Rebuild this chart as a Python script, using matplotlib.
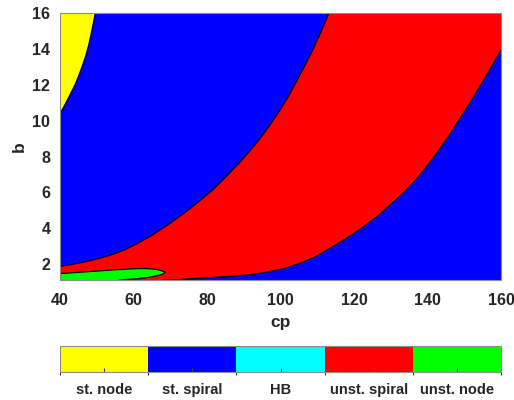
import numpy as np
import matplotlib
matplotlib.use("Agg")
import matplotlib.pyplot as plt
from matplotlib.colors import ListedColormap, BoundaryNorm
from matplotlib.cm import ScalarMappable

plt.rcParams['font.family'] = ['Liberation Sans', 'DejaVu Sans']
plt.rcParams['font.weight'] = 'bold'

# region labels and colours (colorbar order)
clases = ["st. node", "st. spiral", "HB", "unst. spiral", "unst. node"]
colores = ["#ffff00", "#0000ff", "#00ffff", "#ff0000", "#00ff00"]

# limits of the parameter plane
cp_lim = [40, 160]
b_lim = [1.15, 16]

# boundary st. node / st. spiral
nodo_cp = [40, 41, 42, 43, 44.1, 45, 46, 47, 47.8, 48.5, 49.1, 49.6]
nodo_b = [10.4, 10.75, 11.15, 11.55, 12.0, 12.45, 13.0, 13.6, 14.2, 14.85, 15.45, 16.0]

# boundary st. spiral / unst. spiral (upper-left edge of the red band)
sup_cp = [40, 43, 46, 49, 52, 55, 58, 61, 64.5, 69, 73.6, 77.5, 81.7, 85.5, 89, 92,
          94.4, 97, 99.9, 102, 104.4, 106.7, 108.9, 111, 113.2]
sup_b = [1.88, 1.98, 2.1, 2.24, 2.4, 2.6, 2.84, 3.15, 3.55, 4.15, 4.82, 5.45, 6.17,
         6.95, 7.7, 8.4, 9.0, 9.72, 10.6, 11.3, 12.2, 13.1, 14.0, 14.95, 16.0]

# boundary unst. spiral / st. spiral (lower-right edge of the red band)
inf_cp = [68, 72, 76, 82, 87, 91.7, 96, 100.8, 105.3, 109.8, 113.5, 117.6, 122,
          126.5, 131.2, 134, 137, 140, 142.9, 145.6, 148.4, 151, 154, 157, 160]
inf_b = [1.1, 1.14, 1.2, 1.27, 1.33, 1.42, 1.55, 1.75, 2.05, 2.45, 2.9, 3.4, 4.0,
         4.7, 5.55, 6.1, 6.75, 7.5, 8.3, 9.1, 9.98, 10.82, 11.82, 12.86, 13.94]

# unst. node pocket (closed outline, top edge then bottom edge)
verde_cp = [40, 45, 50, 55, 60, 63, 65, 66.5, 67.8, 68.6, 68.2, 67, 65.5, 63.5, 61, 58, 56, 40]
verde_b = [1.48, 1.55, 1.62, 1.69, 1.75, 1.76, 1.74, 1.7, 1.63, 1.55, 1.47, 1.39, 1.32,
           1.25, 1.19, 1.15, 1.1, 1.1]

fig = plt.figure(figsize=(5.14, 4.0), dpi=100)
ax = fig.add_axes([60 / 514, 120.5 / 400, 441 / 514, 266.5 / 400])
ax.set_facecolor(colores[1])

# red band: upper edge, top of the box, right side, lower edge back
rojo_cp = [cp_lim[0]] + sup_cp + [cp_lim[1]] + inf_cp[::-1] + [inf_cp[0], cp_lim[0]]
rojo_b = [b_lim[0] - 0.2] + sup_b + [b_lim[1]] + inf_b[::-1] + [b_lim[0] - 0.2, b_lim[0] - 0.2]
ax.fill(rojo_cp, rojo_b, color=colores[3], lw=0)

# yellow corner
ax.fill(nodo_cp + [cp_lim[0]], nodo_b + [b_lim[1]], color=colores[0], lw=0)

# green pocket
ax.fill(verde_cp, verde_b, color=colores[4], lw=0)

# black boundary lines
ax.plot(nodo_cp, nodo_b, color='k', lw=0.9)
ax.plot(sup_cp, sup_b, color='k', lw=0.9)
ax.plot(inf_cp, inf_b, color='k', lw=0.9)
ax.plot(verde_cp[:-1], verde_b[:-1], color='k', lw=0.9)

ax.set_xlim(cp_lim)
ax.set_ylim(b_lim)
ax.set_xticks(np.arange(40, 161, 20))
ax.set_yticks(np.arange(2, 17, 2))
ax.tick_params(length=0, labelsize=11.5, labelcolor='#262626')
ax.tick_params(axis='x', pad=10)
ax.tick_params(axis='y', pad=7)
for s in ax.spines.values():
    s.set_color('#8c8c8c')
    s.set_linewidth(0.8)
ax.set_xlabel("cp", fontsize=12.5, color='#262626', fontweight='bold', labelpad=5)
ax.set_ylabel("b", fontsize=12.5, color='#262626', fontweight='bold', labelpad=4)

# discrete colorbar
cax = fig.add_axes([60 / 514, 28 / 400, 441 / 514, 26.5 / 400])
cmap = ListedColormap(colores)
norm = BoundaryNorm(np.arange(len(clases) + 1), cmap.N)
cb = fig.colorbar(ScalarMappable(norm=norm, cmap=cmap), cax=cax, orientation='horizontal',
                  ticks=np.arange(len(clases)) + 0.5)
cb.set_ticklabels(clases)
cb.outline.set_edgecolor('#8c8c8c')
cb.outline.set_linewidth(0.8)
cax.tick_params(direction='in', length=3, width=0.8, color='#404040', labelsize=10.5,
                labelcolor='#262626', pad=8)

fig.savefig("out.png", dpi=100)
